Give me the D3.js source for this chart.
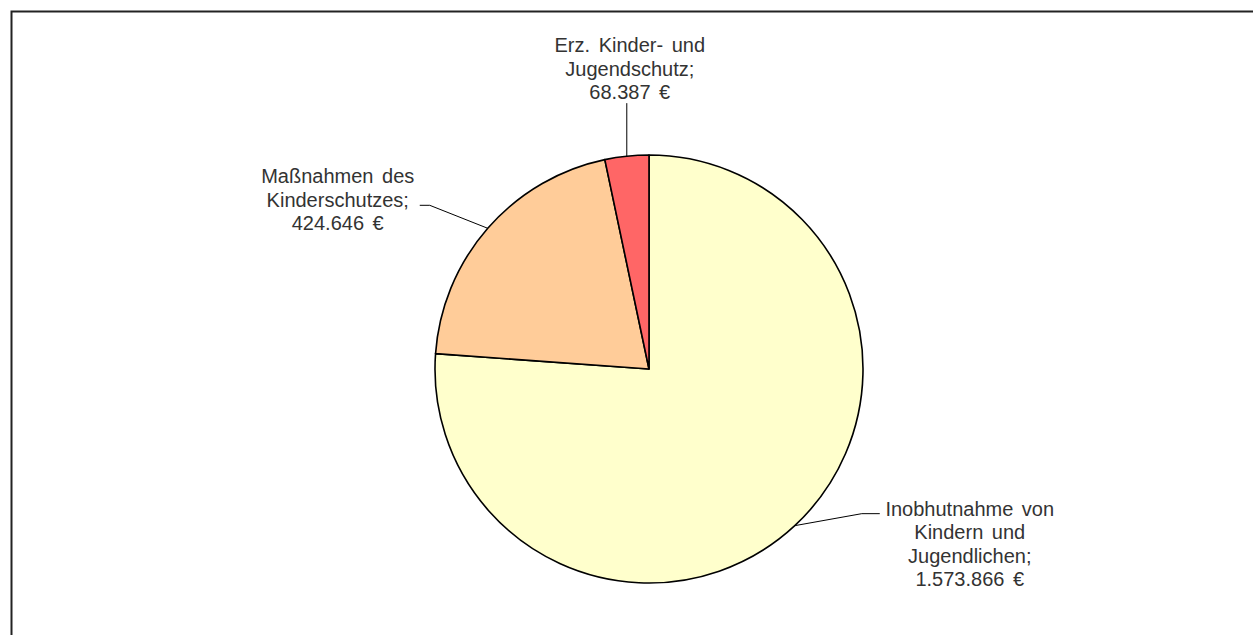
<!DOCTYPE html>
<html>
<head>
<meta charset="utf-8">
<script src="https://cdn.jsdelivr.net/npm/d3@7"></script>
<style>
  body { margin: 0; background: #fff; }
  text { font-family: "Liberation Sans", Arial, sans-serif; }
</style>
</head>
<body>
<script>
// data
const categories = ["Inobhutnahme von Kindern und Jugendlichen", "Maßnahmen des Kinderschutzes", "Erz. Kinder- und Jugendschutz"];
const values = [1573866, 424646, 68387];
const labelLines = [
  ["Inobhutnahme von", "Kindern und", "Jugendlichen;"],
  ["Maßnahmen des", "Kinderschutzes;"],
  ["Erz. Kinder- und", "Jugendschutz;"]
];
const colors = ["#FFFFCC", "#FFCC99", "#FF6666"];

const width = 1253, height = 635;
const cx = 649, cy = 369, radius = 214;

// label placement, relative to the point where the leader touches the slice
const labelLayout = [
  { pts: [[67, -12], [85, -12]], tx: 175, ty: -10 },
  { pts: [[-58, -23], [-68, -23]], tx: -150, ty: -45 },
  { pts: [[0, -53]], tx: 3, ty: -104 }
];

const de = d3.formatLocale({ decimal: ",", thousands: ".", grouping: [3], currency: ["", " €"] });
const fmt = de.format(",.0f");

const svg = d3.select("body").append("svg")
  .attr("width", width)
  .attr("height", height);

// frame
svg.append("rect")
  .attr("x", 11.5).attr("y", 11.5)
  .attr("width", width + 20).attr("height", height + 20)
  .attr("fill", "none")
  .attr("stroke", "#222")
  .attr("stroke-width", 2);

const pie = d3.pie().sort(null).value(d => d);
const arcs = pie(values);
const arc = d3.arc().innerRadius(0).outerRadius(radius);

const g = svg.append("g").attr("transform", `translate(${cx},${cy})`);

g.selectAll("path.slice")
  .data(arcs)
  .enter()
  .append("path")
  .attr("class", "slice")
  .attr("d", arc)
  .attr("fill", (d, i) => colors[i])
  .attr("stroke", "#000")
  .attr("stroke-width", 1.6)
  .attr("stroke-linejoin", "round");

arcs.forEach((d, i) => {
  const mid = (d.startAngle + d.endAngle) / 2;
  const ax = cx + radius * Math.sin(mid);
  const ay = cy - radius * Math.cos(mid);
  const lay = labelLayout[i];

  const pts = [[ax, ay]].concat(lay.pts.map(p => [ax + p[0], ay + p[1]]));
  svg.append("path")
    .attr("d", d3.line()(pts))
    .attr("fill", "none")
    .attr("stroke", "#000")
    .attr("stroke-width", 1);

  const lines = labelLines[i].concat([fmt(values[i]) + " €"]);
  const t = svg.append("text")
    .attr("text-anchor", "middle")
    .attr("font-size", 20)
    .attr("word-spacing", 3)
    .attr("fill", "#333");
  lines.forEach((s, j) => {
    t.append("tspan")
      .attr("x", ax + lay.tx)
      .attr("y", ay + lay.ty + j * 23.5)
      .text(s);
  });
});
</script>
</body>
</html>
